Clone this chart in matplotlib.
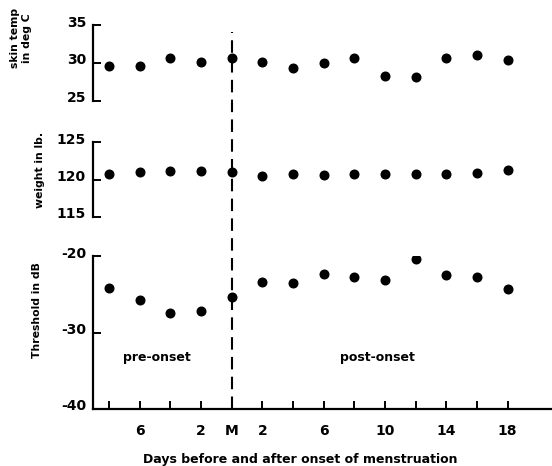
import matplotlib.pyplot as plt
import matplotlib.transforms as mtransforms

# days relative to onset (M = 0)
days = [-8, -6, -4, -2, 0, 2, 4, 6, 8, 10, 12, 14, 16, 18]
skin_temp = [29.6, 29.6, 30.7, 30.1, 30.6, 30.1, 29.4, 30.0, 30.7, 28.3, 28.2, 30.6, 31.0, 30.4]
weight = [120.8, 121.0, 121.2, 121.1, 121.0, 120.5, 120.8, 120.6, 120.8, 120.7, 120.8, 120.8, 120.9, 121.3]
threshold = [-24.2, -25.8, -27.4, -27.2, -25.3, -23.4, -23.5, -22.3, -22.8, -23.1, -20.4, -22.5, -22.7, -24.3]

xtick_pos = [-6, -2, 0, 2, 6, 10, 14, 18]
xtick_labels = ['6', '2', 'M', '2', '6', '10', '14', '18']

plt.rcParams['font.family'] = ['DejaVu Sans']
plt.rcParams['font.weight'] = 'bold'

W, H = 552, 466
fig = plt.figure(figsize=(W / 100, H / 100), dpi=100)

def frac(x0, y_top, y_bot):
    return [x0 / W, 1 - y_bot / H, 1 - x0 / W, (y_bot - y_top) / H]

ax1 = fig.add_axes(frac(93, 25, 101))
ax2 = fig.add_axes(frac(93, 142, 217))
ax3 = fig.add_axes(frac(93, 256, 409))

xlim = (-9.05, 20.9)
panels = [
    (ax1, skin_temp, (25, 35), [25, 30, 35]),
    (ax2, weight, (115, 125), [115, 120, 125]),
    (ax3, threshold, (-40, -20), [-40, -30, -20]),
]
for ax, vals, ylim, yt in panels:
    ax.plot(days, vals, 'o', color='black', ms=6.2)
    ax.set_xlim(*xlim)
    ax.set_ylim(*ylim)
    ax.set_yticks(yt)
    ax.set_yticklabels([str(v) for v in yt])
    ax.patch.set_alpha(0)
    for s in ['top', 'right']:
        ax.spines[s].set_visible(False)
    ax.spines['left'].set_linewidth(1.6)
    ax.tick_params(axis='y', direction='in', length=6, width=1.4, pad=5, labelsize=10)
    offset = mtransforms.ScaledTranslation(0, 4 / 100, fig.dpi_scale_trans)
    for lab in ax.get_yticklabels():
        lab.set_transform(lab.get_transform() + offset)

for ax in (ax1, ax2):
    ax.spines['bottom'].set_visible(False)
    ax.set_xticks([])

ax3.spines['bottom'].set_linewidth(1.6)
ax3.set_xticks(days, minor=True)
ax3.set_xticks(xtick_pos)
ax3.set_xticklabels(xtick_labels)
ax3.tick_params(axis='x', which='both', direction='in', length=6, width=1.4, pad=11, labelsize=10)

# dashed onset line across all panels
trans = mtransforms.blended_transform_factory(ax3.transData, fig.transFigure)
fig.add_artist(plt.Line2D([0, 0], [1 - 409 / H, 1 - 32 / H], transform=trans,
                          color='black', lw=1.5, ls=(0, (6, 3.5))))

fig.text(21 / W, 1 - 38 / H, 'skin temp\nin deg C', rotation=90, ha='center', va='center',
         fontsize=7.8, linespacing=1.3)
fig.text(40 / W, 1 - 170 / H, 'weight in lb.', rotation=90, ha='center', va='center', fontsize=7.8)
fig.text(37 / W, 1 - 310 / H, 'Threshold in dB', rotation=90, ha='center', va='center', fontsize=7.8)

fig.text(157 / W, 1 - 358 / H, 'pre-onset', ha='center', va='center', fontsize=9)
fig.text(377 / W, 1 - 358 / H, 'post-onset', ha='center', va='center', fontsize=9)
fig.text(300 / W, 1 - 460 / H, 'Days before and after onset of menstruation', ha='center',
         va='center', fontsize=9)

fig.savefig('out.png', dpi=100)
